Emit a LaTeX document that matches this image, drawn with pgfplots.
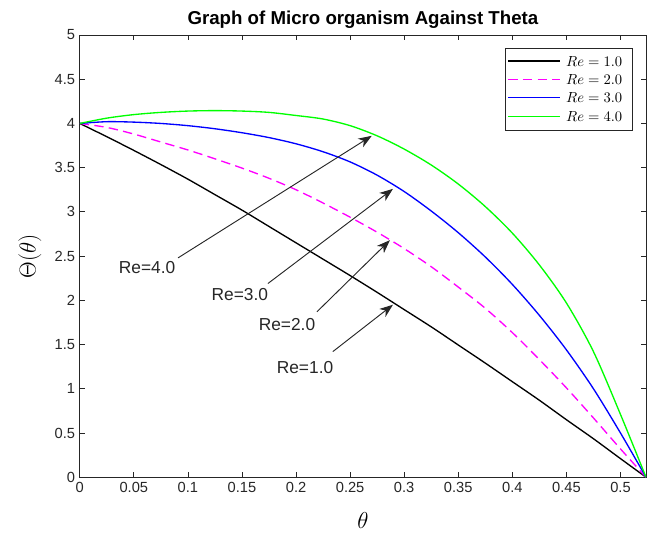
\documentclass[border=0pt]{standalone}
\usepackage{fontspec}
\setmainfont{Liberation Sans}
\usepackage{pgfplots}
\pgfplotsset{compat=1.18}
\usetikzlibrary{arrows.meta}
\definecolor{axgray}{rgb}{0.15,0.15,0.15}
\definecolor{mgreen}{rgb}{0,1,0}
\definecolor{mblue}{rgb}{0,0,1}
\definecolor{mmag}{rgb}{1,0,1}
\definecolor{mblack}{rgb}{0,0,0}

\begin{document}
\begin{tikzpicture}
\begin{axis}[
  name=ax,
  scale only axis,
  width=424.5pt, height=331.5pt,
  xmin=0, xmax=0.5236, ymin=0, ymax=5,
  xtick={0,0.05,0.1,0.15,0.2,0.25,0.3,0.35,0.4,0.45,0.5},
  xticklabels={0,0.05,0.1,0.15,0.2,0.25,0.3,0.35,0.4,0.45,0.5},
  ytick={0,0.5,1,1.5,2,2.5,3,3.5,4,4.5,5},
  yticklabels={0,0.5,1,1.5,2,2.5,3,3.5,4,4.5,5},
  xtick pos=both, ytick pos=both,
  tick align=inside,
  major tick length=3.75pt,
  axis line style={axgray, line width=0.6pt},
  tick style={axgray, line width=0.6pt},
  ticklabel style={font=\fontsize{11}{13}\selectfont, text=axgray},
  /pgf/number format/assume math mode=true,
  title={Graph of Micro organism Against Theta},
  title style={font=\fontsize{14}{16}\selectfont\bfseries, at={(axis description cs:0.5,1)}, anchor=center, yshift=5.5pt},
  xlabel={$\theta$}, ylabel={$\Theta(\theta)$},
  xlabel style={font=\fontsize{16}{18}\selectfont, at={(axis description cs:0.5,-0.097)}, anchor=center},
  ylabel style={font=\fontsize{16}{18}\selectfont, at={(axis description cs:-0.088,0.5)}, anchor=center},
]
\addplot[mblack, line width=1pt, smooth] coordinates {
  (0,4.00) (0.025,3.85) (0.05,3.695) (0.075,3.535) (0.10,3.37) (0.125,3.195) (0.15,3.02) (0.175,2.835)
  (0.20,2.65) (0.225,2.465) (0.25,2.28) (0.275,2.09) (0.30,1.895) (0.325,1.70) (0.35,1.495) (0.375,1.29)
  (0.40,1.08) (0.425,0.87) (0.45,0.65) (0.475,0.435) (0.50,0.21) (0.5236,0)
};
\addplot[mmag, line width=1pt, dash pattern=on 7pt off 4pt, smooth] coordinates {
  (0,4.00) (0.025,3.955) (0.05,3.88) (0.075,3.79) (0.10,3.70) (0.125,3.60) (0.15,3.495) (0.175,3.38)
  (0.20,3.25) (0.225,3.10) (0.25,2.94) (0.275,2.77) (0.30,2.585) (0.325,2.38) (0.35,2.15) (0.375,1.91)
  (0.40,1.635) (0.425,1.33) (0.45,1.01) (0.475,0.67) (0.50,0.32) (0.5236,0)
};
\addplot[mblue, line width=1pt, smooth] coordinates {
  (0,4.00) (0.025,4.02) (0.05,4.015) (0.075,4.00) (0.10,3.975) (0.125,3.94) (0.15,3.895) (0.175,3.84)
  (0.20,3.77) (0.225,3.68) (0.25,3.565) (0.275,3.415) (0.30,3.23) (0.325,3.01) (0.35,2.765) (0.375,2.49)
  (0.40,2.18) (0.425,1.83) (0.45,1.44) (0.475,1.00) (0.50,0.50) (0.5236,0)
};
\addplot[mgreen, line width=1pt, smooth] coordinates {
  (0,4.00) (0.025,4.06) (0.05,4.10) (0.075,4.125) (0.10,4.14) (0.125,4.145) (0.15,4.14) (0.175,4.125)
  (0.20,4.09) (0.225,4.05) (0.25,3.975) (0.275,3.86) (0.30,3.71) (0.325,3.53) (0.35,3.315) (0.375,3.06)
  (0.40,2.76) (0.425,2.40) (0.45,1.97) (0.475,1.42) (0.50,0.71) (0.5236,0)
};

% legend box
\draw[axgray, line width=0.6pt, fill=white] (rel axis cs:0.7514,0.785) rectangle (rel axis cs:0.9758,0.9706);
\draw[mblack, line width=1pt] (rel axis cs:0.7567,0.9412) -- (rel axis cs:0.8486,0.9412);
\draw[mmag, line width=1pt, dash pattern=on 7pt off 4pt] (rel axis cs:0.7567,0.8997) -- (rel axis cs:0.8486,0.8997);
\draw[mblue, line width=1pt] (rel axis cs:0.7567,0.8583) -- (rel axis cs:0.8486,0.8583);
\draw[mgreen, line width=1pt] (rel axis cs:0.7567,0.8153) -- (rel axis cs:0.8486,0.8153);
\node[anchor=west, inner sep=0pt, font=\fontsize{10.5}{12}\selectfont] at (rel axis cs:0.8584,0.9412) {$Re = 1.0$};
\node[anchor=west, inner sep=0pt, font=\fontsize{10.5}{12}\selectfont] at (rel axis cs:0.8584,0.8997) {$Re = 2.0$};
\node[anchor=west, inner sep=0pt, font=\fontsize{10.5}{12}\selectfont] at (rel axis cs:0.8584,0.8583) {$Re = 3.0$};
\node[anchor=west, inner sep=0pt, font=\fontsize{10.5}{12}\selectfont] at (rel axis cs:0.8584,0.8153) {$Re = 4.0$};

% annotation arrows
\draw[-{Stealth[length=10pt,width=7.5pt,inset=3pt]}, line width=0.7pt, axgray] (axis cs:0.0909,2.48) -- (axis cs:0.270,3.86);
\draw[-{Stealth[length=10pt,width=7.5pt,inset=3pt]}, line width=0.7pt, axgray] (axis cs:0.174,2.19) -- (axis cs:0.2896,3.26);
\draw[-{Stealth[length=10pt,width=7.5pt,inset=3pt]}, line width=0.7pt, axgray] (axis cs:0.2193,1.87) -- (axis cs:0.2868,2.68);
\draw[-{Stealth[length=10pt,width=7.5pt,inset=3pt]}, line width=0.7pt, axgray] (axis cs:0.234,1.42) -- (axis cs:0.2896,1.95);
\node[font=\fontsize{13}{15}\selectfont, text=axgray] at (axis cs:0.0623,2.375) {Re=4.0};
\node[font=\fontsize{13}{15}\selectfont, text=axgray] at (axis cs:0.148,2.06) {Re=3.0};
\node[font=\fontsize{13}{15}\selectfont, text=axgray] at (axis cs:0.1916,1.73) {Re=2.0};
\node[font=\fontsize{13}{15}\selectfont, text=axgray] at (axis cs:0.2083,1.244) {Re=1.0};
\end{axis}
\pgfresetboundingbox
\useasboundingbox (ax.south west) ++(-59.8pt,-43.5pt) rectangle ([shift={(5.25pt,26.25pt)}]ax.north east);
\end{tikzpicture}
\end{document}
